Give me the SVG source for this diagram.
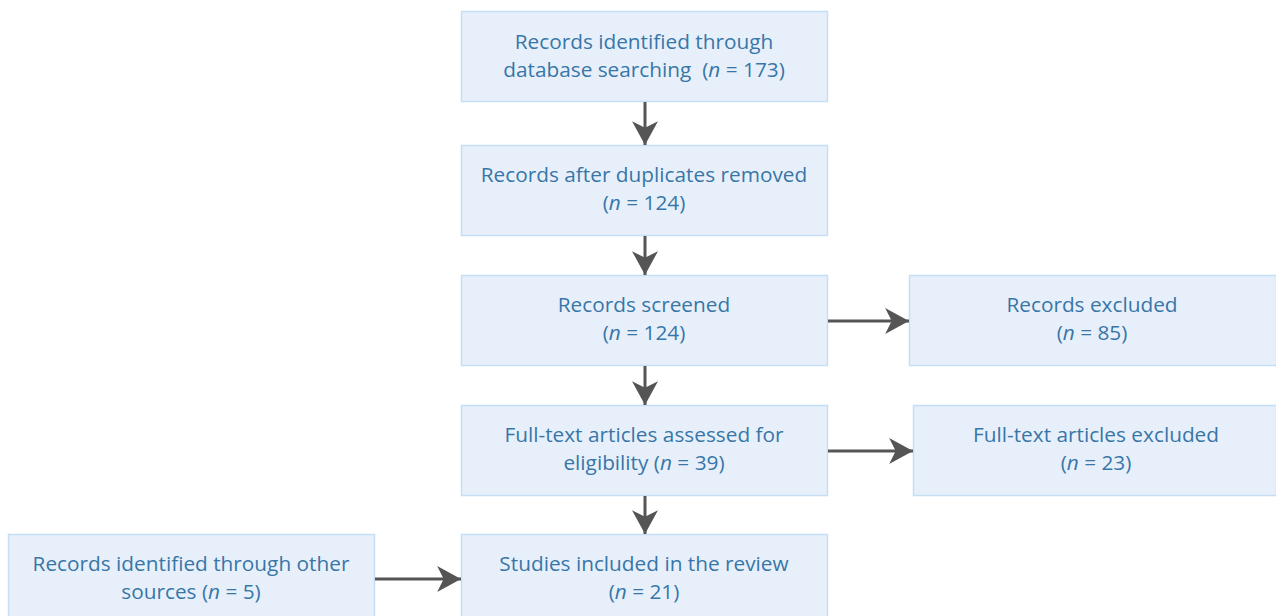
<svg xmlns="http://www.w3.org/2000/svg" width="1276" height="616" viewBox="0 0 1276 616">
<style>
.box{fill:#e7f0fa;stroke:#c4def6;stroke-width:1.5}
.t{font-family:"Open Sans","Liberation Sans",sans-serif;font-size:20.8px;fill:#3876a8;text-anchor:middle}
.c{stroke:#555;stroke-width:3;fill:none}
</style>
<defs>
<marker id="ah" markerUnits="userSpaceOnUse" markerWidth="26" markerHeight="26" viewBox="0 0 24 24" refX="22" refY="12" orient="auto">
<path d="M0,0 L22,12 L0,24 L6,12 Z" fill="#555"/>
</marker>
</defs>
<rect width="1276" height="616" fill="#fff"/>
<g id="n1"><rect class="box" x="461.5" y="11.5" width="366" height="90"/>
<text class="t" x="644" y="49">Records identified through</text>
<text class="t" x="644" y="77">database searching&#160; (<tspan font-style="italic">n</tspan> = 173)</text></g>
<g id="n2"><rect class="box" x="461.5" y="145.5" width="366" height="90"/>
<text class="t" x="644" y="182">Records after duplicates removed</text>
<text class="t" x="644" y="210">(<tspan font-style="italic">n</tspan> = 124)</text></g>
<g id="n3"><rect class="box" x="461.5" y="275.5" width="366" height="90"/>
<text class="t" x="644" y="312">Records screened</text>
<text class="t" x="644" y="340">(<tspan font-style="italic">n</tspan> = 124)</text></g>
<g id="n4"><rect class="box" x="461.5" y="405.5" width="366" height="90"/>
<text class="t" x="644" y="442">Full-text articles assessed for</text>
<text class="t" x="644" y="470">eligibility (<tspan font-style="italic">n</tspan> = 39)</text></g>
<g id="n5"><rect class="box" x="461.5" y="534.5" width="366" height="90"/>
<text class="t" x="644" y="571">Studies included in the review</text>
<text class="t" x="644" y="599">(<tspan font-style="italic">n</tspan> = 21)</text></g>
<g id="n6"><rect class="box" x="909.5" y="275.5" width="367" height="90"/>
<text class="t" x="1092" y="312">Records excluded</text>
<text class="t" x="1092" y="340">(<tspan font-style="italic">n</tspan> = 85)</text></g>
<g id="n7"><rect class="box" x="913.5" y="405.5" width="363" height="90"/>
<text class="t" x="1096" y="442">Full-text articles excluded</text>
<text class="t" x="1096" y="470">(<tspan font-style="italic">n</tspan> = 23)</text></g>
<g id="n8"><rect class="box" x="8.5" y="534.5" width="366" height="90"/>
<text class="t" x="191" y="571">Records identified through other</text>
<text class="t" x="191" y="599">sources (<tspan font-style="italic">n</tspan> = 5)</text></g>
<g id="connectors">
<line class="c" x1="645" y1="102" x2="645" y2="145" marker-end="url(#ah)"/>
<line class="c" x1="645" y1="236" x2="645" y2="275" marker-end="url(#ah)"/>
<line class="c" x1="645" y1="366" x2="645" y2="405" marker-end="url(#ah)"/>
<line class="c" x1="645" y1="496" x2="645" y2="534" marker-end="url(#ah)"/>
<line class="c" x1="828" y1="321" x2="909" y2="321" marker-end="url(#ah)"/>
<line class="c" x1="828" y1="451" x2="913" y2="451" marker-end="url(#ah)"/>
<line class="c" x1="375" y1="579" x2="461" y2="579" marker-end="url(#ah)"/>
</g>
</svg>
